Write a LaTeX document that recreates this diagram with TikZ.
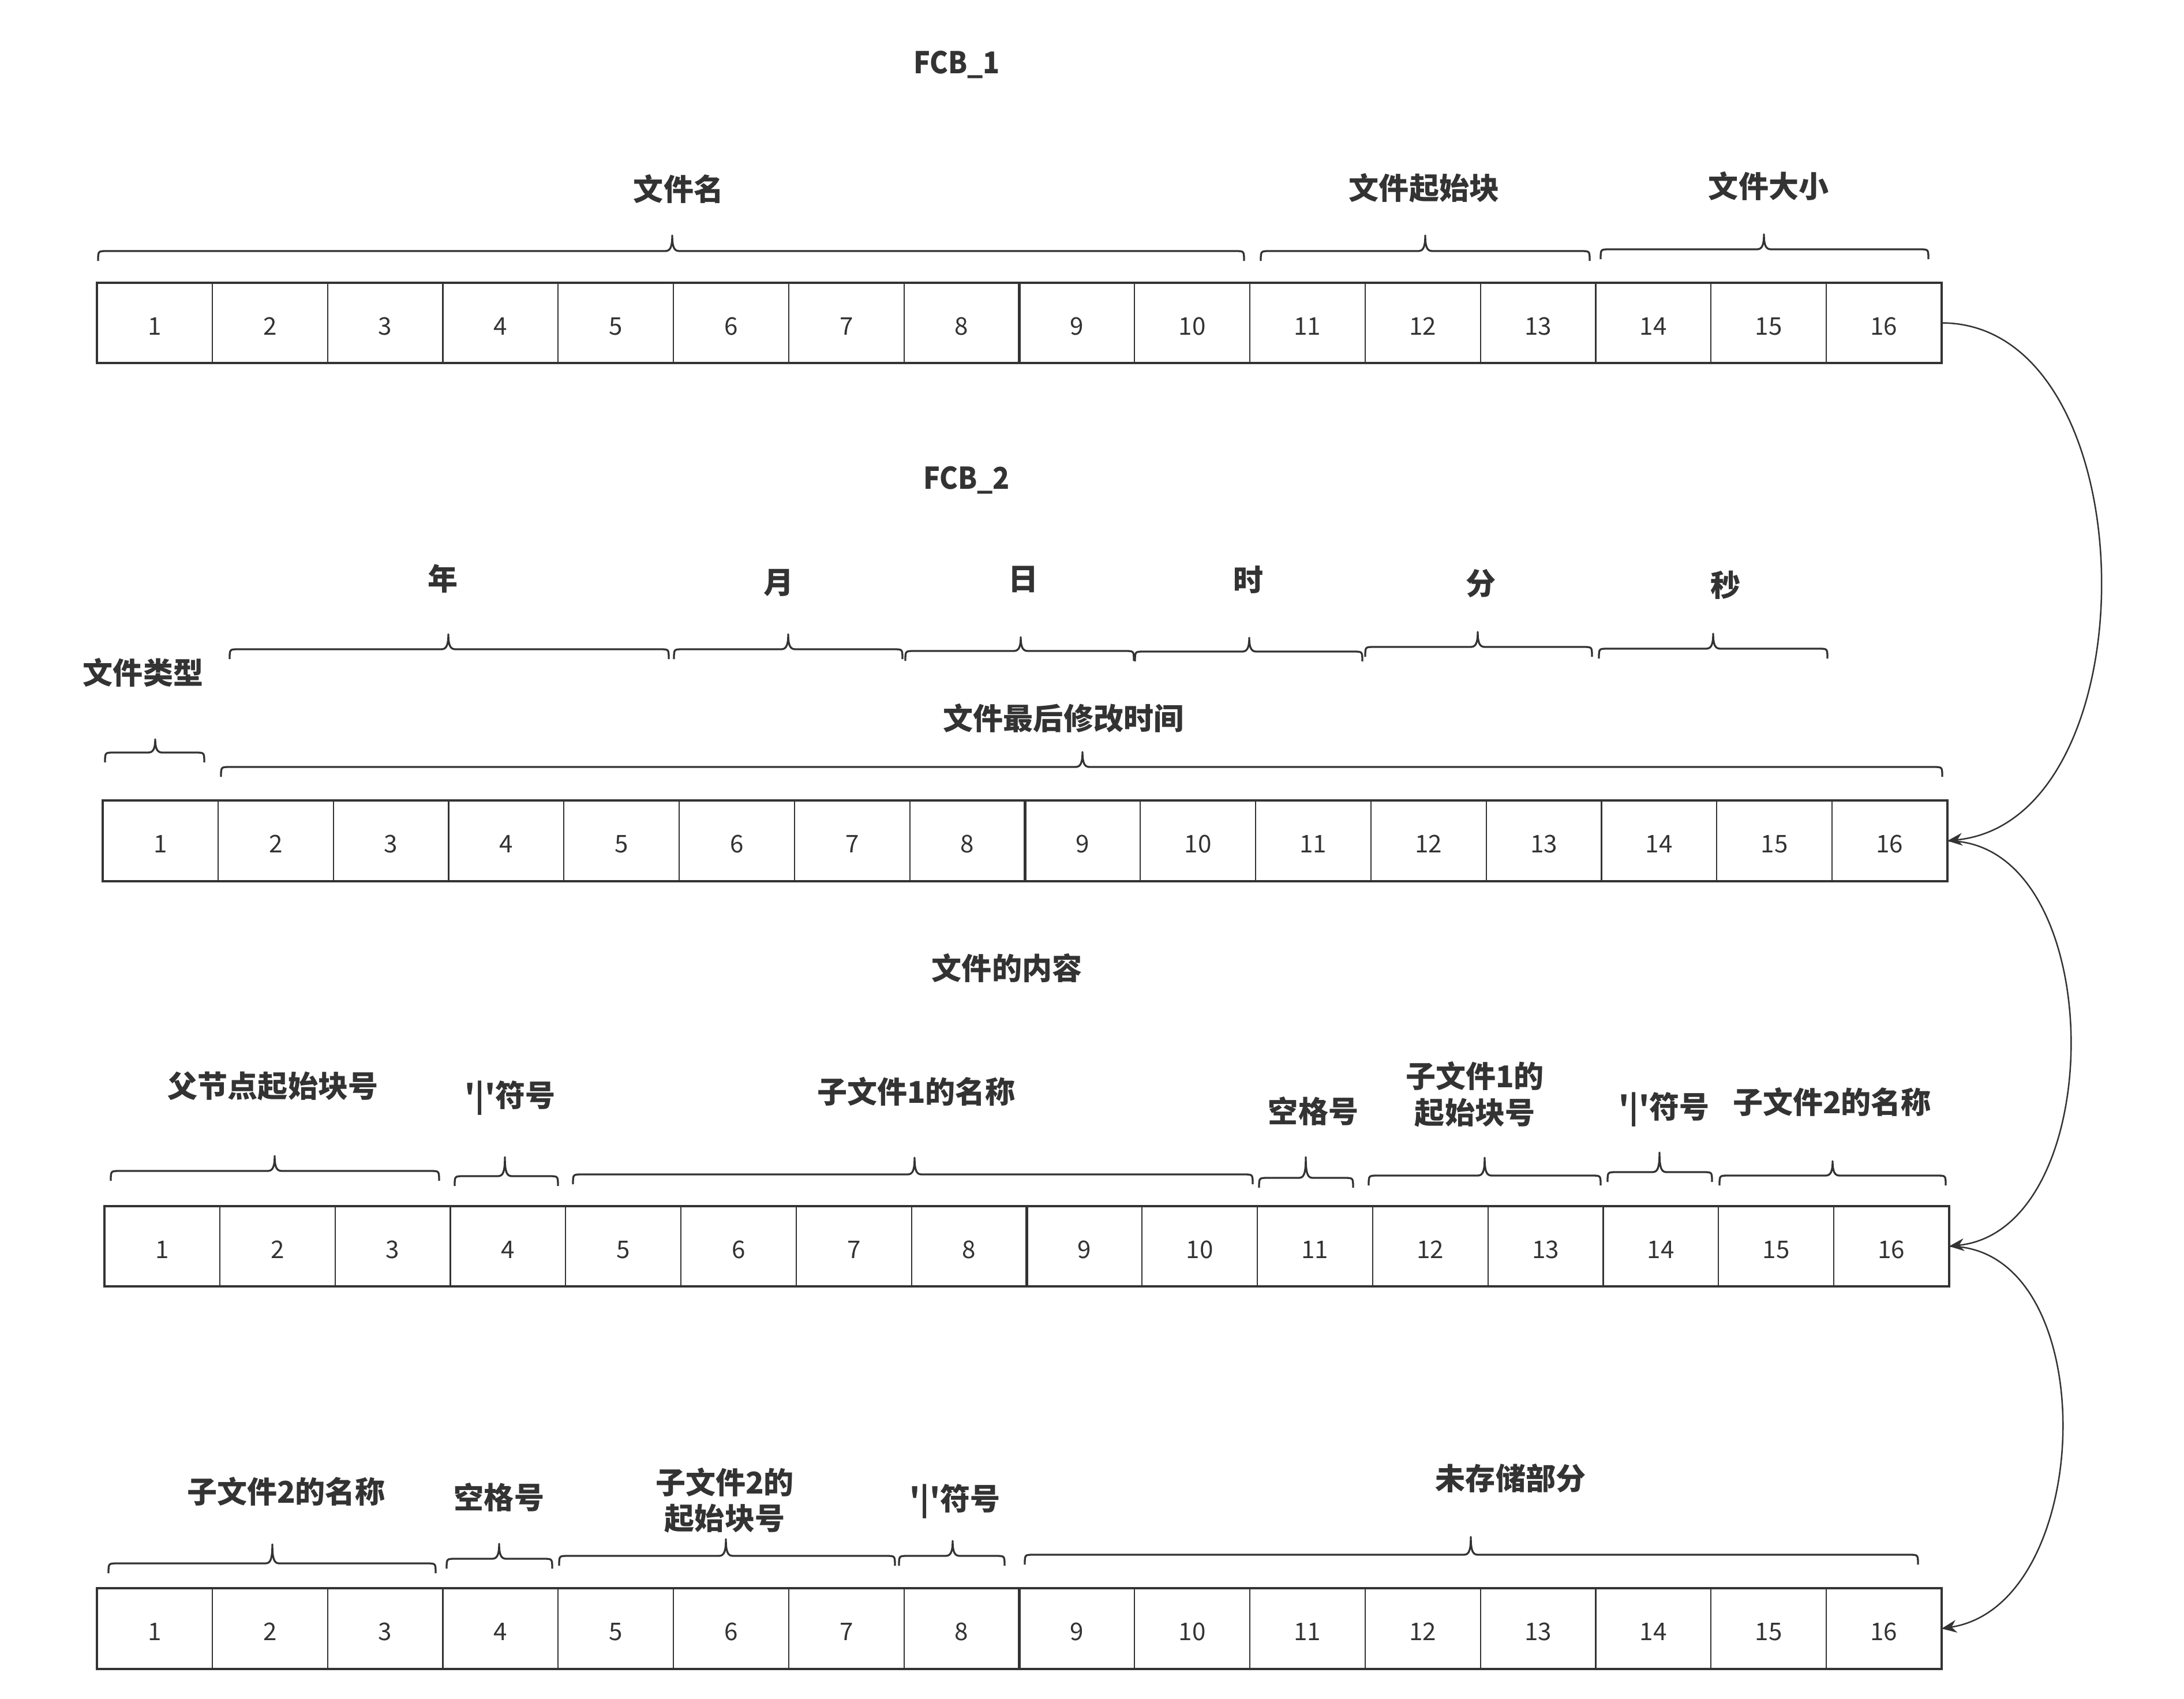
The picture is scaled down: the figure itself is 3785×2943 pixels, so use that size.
\documentclass[tikz,border=0pt]{standalone}
\usepackage{fontspec}
\newfontfamily\cjk{Noto Sans CJK SC}
\usetikzlibrary{arrows.meta}
\definecolor{ink}{HTML}{333333}
% #1 left x, #2 right x, #3 tip x, #4 tip y, #5 bar y
\newcommand\mybrace[5]{%
  \draw[bracestyle] (#1,#5+17) .. controls (#1,#5) and (#1,#5) .. (#1+15,#5)
    -- (#3-12,#5) .. controls (#3-3,#5) and (#3,#5-8) .. (#3,#4)
    .. controls (#3,#5-8) and (#3+3,#5) .. (#3+12,#5)
    -- (#2-15,#5) .. controls (#2,#5) and (#2,#5) .. (#2,#5+17);}
\begin{document}
\begin{tikzpicture}[x=0.1mm,y=-0.1mm,
  cell/.style={draw=ink, line width=0.22mm, minimum width=19.98mm, minimum height=13.95mm,
    inner sep=0pt, outer sep=0pt, text=ink, text height=4.1mm, text depth=0pt,
    font=\cjk\fontsize{12pt}{14pt}\selectfont},
  outerline/.style={draw=ink, line width=0.4mm},
  midline/.style={draw=ink, line width=0.55mm},
  bracestyle/.style={draw=ink, line width=0.33mm, line join=round},
  lab/.style={anchor=base, inner sep=0pt, text=ink, font=\cjk\fontsize{14.8pt}{18pt}\selectfont\bfseries},
  conn/.style={draw=ink, line width=0.25mm, -{Stealth[length=2.6mm,width=2.2mm]}}]
\useasboundingbox (0,0) rectangle (3785,2943);

% rows of cells
\foreach \r/\xo/\yc in {1/168/559.5, 2/178/1457, 3/181/2159.5, 4/168/2822} {
  \foreach \i in {1,...,16} {
    \node[cell] (r\r-\i) at ({\xo+(\i-0.5)*199.8},\yc) {\i};
  }
  \draw[outerline] (r\r-1.north west) rectangle (r\r-16.south east);
  \draw[midline] (r\r-8.north east) -- (r\r-8.south east);
}

% row 1 labels
\node[lab] (t1) at (1658,127) {\scalebox{0.92}[1]{FCB\_1}};
\node[lab] (fname) at (1176,347) {文件名};
\node[lab] (fstart) at (2468,345) {文件起始块};
\node[lab] (fsize) at (3065,342) {文件大小};
\mybrace{170}{2156}{1165}{408}{435}
\mybrace{2185}{2755}{2470}{408}{435}
\mybrace{2774}{3342}{3057}{406}{432}

% row 2 labels
\node[lab] (t2) at (1675,847) {\scalebox{0.92}[1]{FCB\_2}};
\node[lab] (year) at (768,1022) {年};
\node[lab] (month) at (1349,1028) {月};
\node[lab] (day) at (1773,1022) {日};
\node[lab] (hour) at (2163,1024) {时};
\node[lab] (minute) at (2566,1030) {分};
\node[lab] (second) at (2990,1033) {秒};
\node[lab] (ftype) at (248,1185) {文件类型};
\node[lab] (fmod) at (1843,1264) {文件最后修改时间};
\mybrace{398}{1159}{777}{1099}{1125}
\mybrace{1168}{1564}{1366}{1099}{1125}
\mybrace{1569}{1965}{1769}{1104}{1128}
\mybrace{1967}{2361}{2165}{1105}{1129}
\mybrace{2366}{2759}{2561}{1095}{1121}
\mybrace{2771}{3167}{2969}{1098}{1124}
\mybrace{182}{354}{269}{1281}{1304}
\mybrace{383}{3366}{1876}{1303}{1329}

% row 3 labels
\node[lab] (t3) at (1745,1697) {文件的内容};
\node[lab] (parent) at (473,1901) {父节点起始块号};
\node[lab] (bar1) at (884,1917) {'|'符号};
\node[lab] (c1name) at (1588,1911) {子文件1的名称};
\node[lab] (sp1) at (2276,1945) {空格号};
\node[lab] (c1sa) at (2556,1884) {子文件1的};
\node[lab] (c1sb) at (2556,1947) {起始块号};
\node[lab] (bar2) at (2884,1937) {'|'符号};
\node[lab] (c2name) at (3175,1929) {子文件2的名称};
\mybrace{192}{761}{476}{2003}{2029}
\mybrace{788}{967}{875}{2005}{2038}
\mybrace{993}{2171}{1585}{2006}{2035}
\mybrace{2182}{2345}{2263}{2005}{2041}
\mybrace{2372}{2774}{2573}{2006}{2037}
\mybrace{2786}{2967}{2876}{1997}{2031}
\mybrace{2980}{3372}{3176}{2012}{2037}

% row 4 labels
\node[lab] (c2nameb) at (496,2604) {子文件2的名称};
\node[lab] (sp2) at (865,2614) {空格号};
\node[lab] (c2sa) at (1256,2588) {子文件2的};
\node[lab] (c2sb) at (1256,2650) {起始块号};
\node[lab] (bar3) at (1655,2616) {'|'符号};
\node[lab] (unused) at (2618,2581) {未存储部分};
\mybrace{188}{755}{472}{2676}{2709}
\mybrace{774}{957}{865}{2675}{2701}
\mybrace{969}{1551}{1258}{2667}{2696}
\mybrace{1558}{1741}{1651}{2670}{2696}
\mybrace{1776}{3324}{2549}{2663}{2694}

% connectors
\draw[conn] (r1-16.east) .. controls (3725,560) and (3735,1420) .. (r2-16.east);
\draw[conn] (r2-16.east) .. controls (3656,1457) and (3659,2130) .. (r3-16.east);
\draw[conn] (r3-16.east) .. controls (3647,2160) and (3634,2780) .. (r4-16.east);
\end{tikzpicture}
\end{document}
